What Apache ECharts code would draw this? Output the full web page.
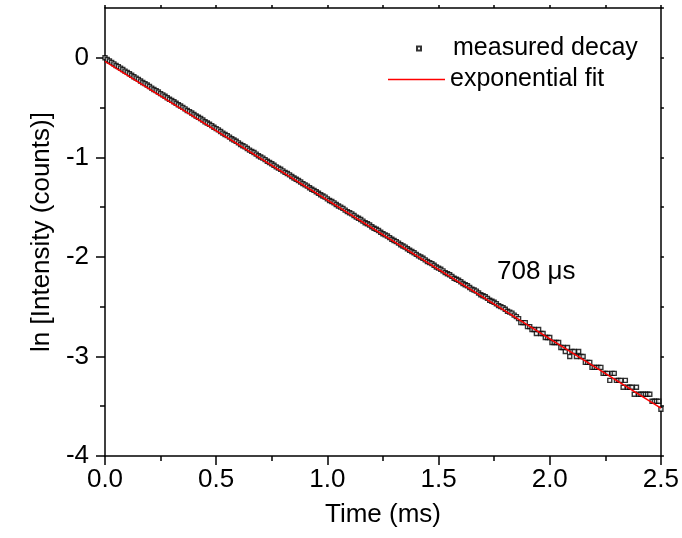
<!DOCTYPE html>
<html>
<head>
<meta charset="utf-8">
<script src="https://cdn.jsdelivr.net/npm/echarts@6/dist/echarts.min.js"></script>
<style>
  html, body { margin: 0; padding: 0; background: #fff; }
</style>
</head>
<body>
<div id="chart" style="width: 682px; height: 538px;"></div>
<script>
// measured decay (time in ms, ln of normalised counts)
var decayTime = [
  0.00, 0.01, 0.02, 0.03, 0.04, 0.05, 0.06, 0.07, 0.08, 0.09,
  0.10, 0.11, 0.12, 0.13, 0.14, 0.15, 0.16, 0.17, 0.18, 0.19,
  0.20, 0.21, 0.22, 0.23, 0.24, 0.25, 0.26, 0.27, 0.28, 0.29,
  0.30, 0.31, 0.32, 0.33, 0.34, 0.35, 0.36, 0.37, 0.38, 0.39,
  0.40, 0.41, 0.42, 0.43, 0.44, 0.45, 0.46, 0.47, 0.48, 0.49,
  0.50, 0.51, 0.52, 0.53, 0.54, 0.55, 0.56, 0.57, 0.58, 0.59,
  0.60, 0.61, 0.62, 0.63, 0.64, 0.65, 0.66, 0.67, 0.68, 0.69,
  0.70, 0.71, 0.72, 0.73, 0.74, 0.75, 0.76, 0.77, 0.78, 0.79,
  0.80, 0.81, 0.82, 0.83, 0.84, 0.85, 0.86, 0.87, 0.88, 0.89,
  0.90, 0.91, 0.92, 0.93, 0.94, 0.95, 0.96, 0.97, 0.98, 0.99,
  1.00, 1.01, 1.02, 1.03, 1.04, 1.05, 1.06, 1.07, 1.08, 1.09,
  1.10, 1.11, 1.12, 1.13, 1.14, 1.15, 1.16, 1.17, 1.18, 1.19,
  1.20, 1.21, 1.22, 1.23, 1.24, 1.25, 1.26, 1.27, 1.28, 1.29,
  1.30, 1.31, 1.32, 1.33, 1.34, 1.35, 1.36, 1.37, 1.38, 1.39,
  1.40, 1.41, 1.42, 1.43, 1.44, 1.45, 1.46, 1.47, 1.48, 1.49,
  1.50, 1.51, 1.52, 1.53, 1.54, 1.55, 1.56, 1.57, 1.58, 1.59,
  1.60, 1.61, 1.62, 1.63, 1.64, 1.65, 1.66, 1.67, 1.68, 1.69,
  1.70, 1.71, 1.72, 1.73, 1.74, 1.75, 1.76, 1.77, 1.78, 1.79,
  1.80, 1.81, 1.82, 1.83, 1.84, 1.85, 1.86, 1.87, 1.88, 1.89,
  1.90, 1.91, 1.92, 1.93, 1.94, 1.95, 1.96, 1.97, 1.98, 1.99,
  2.00, 2.01, 2.02, 2.03, 2.04, 2.05, 2.06, 2.07, 2.08, 2.09,
  2.10, 2.11, 2.12, 2.13, 2.14, 2.15, 2.16, 2.17, 2.18, 2.19,
  2.20, 2.21, 2.22, 2.23, 2.24, 2.25, 2.26, 2.27, 2.28, 2.29,
  2.30, 2.31, 2.32, 2.33, 2.34, 2.35, 2.36, 2.37, 2.38, 2.39,
  2.40, 2.41, 2.42, 2.43, 2.44, 2.45, 2.46, 2.47, 2.48, 2.49,
  2.50
];
var decayLn = [
  0.000, -0.018, -0.033, -0.046, -0.061, -0.077, -0.089, -0.104, -0.118, -0.134,
  -0.147, -0.160, -0.176, -0.191, -0.204, -0.217, -0.233, -0.248, -0.260, -0.273,
  -0.289, -0.305, -0.318, -0.330, -0.344, -0.360, -0.373, -0.386, -0.401, -0.416,
  -0.428, -0.441, -0.457, -0.472, -0.485, -0.498, -0.513, -0.529, -0.541, -0.554,
  -0.570, -0.585, -0.598, -0.610, -0.625, -0.642, -0.655, -0.667, -0.682, -0.698,
  -0.712, -0.724, -0.741, -0.757, -0.770, -0.782, -0.797, -0.813, -0.826, -0.839,
  -0.855, -0.871, -0.883, -0.895, -0.912, -0.928, -0.940, -0.952, -0.968, -0.984,
  -0.996, -1.008, -1.023, -1.040, -1.052, -1.064, -1.080, -1.096, -1.108, -1.120,
  -1.136, -1.151, -1.163, -1.176, -1.192, -1.208, -1.220, -1.232, -1.248, -1.264,
  -1.277, -1.289, -1.305, -1.320, -1.332, -1.345, -1.361, -1.376, -1.388, -1.400,
  -1.417, -1.433, -1.444, -1.457, -1.474, -1.489, -1.500, -1.513, -1.530, -1.545,
  -1.556, -1.568, -1.585, -1.601, -1.612, -1.624, -1.641, -1.657, -1.667, -1.680,
  -1.697, -1.712, -1.722, -1.735, -1.752, -1.768, -1.779, -1.790, -1.806, -1.823,
  -1.836, -1.847, -1.862, -1.878, -1.890, -1.902, -1.918, -1.934, -1.946, -1.958,
  -1.975, -1.990, -2.001, -2.013, -2.030, -2.047, -2.058, -2.068, -2.084, -2.102,
  -2.113, -2.124, -2.140, -2.158, -2.170, -2.180, -2.196, -2.214, -2.224, -2.234,
  -2.250, -2.268, -2.280, -2.290, -2.307, -2.324, -2.333, -2.344, -2.362, -2.380,
  -2.390, -2.400, -2.417, -2.436, -2.445, -2.455, -2.470, -2.490, -2.500, -2.510,
  -2.526, -2.546, -2.555, -2.565, -2.585, -2.600, -2.62, -2.66, -2.66, -2.66,
  -2.70, -2.70, -2.73, -2.73, -2.77, -2.73, -2.77, -2.77, -2.81, -2.81,
  -2.81, -2.86, -2.86, -2.86, -2.86, -2.91, -2.91, -2.95, -2.91, -3.00,
  -2.95, -2.95, -3.00, -2.95, -3.00, -3.00, -3.06, -3.06, -3.06, -3.11,
  -3.11, -3.11, -3.11, -3.11, -3.17, -3.17, -3.17, -3.24, -3.17, -3.17,
  -3.24, -3.24, -3.24, -3.31, -3.24, -3.31, -3.31, -3.31, -3.38, -3.31,
  -3.38, -3.38, -3.38, -3.38, -3.38, -3.38, -3.45, -3.45, -3.45, -3.45,
  -3.53
];

// straight-line fit (exponential fit on a log scale)
var fitTime = [0, 2.5];
var fitLn = [-0.035, -3.52];

var xTicks = [0, 0.5, 1.0, 1.5, 2.0, 2.5];
var yTicks = [-4, -3, -2, -1, 0];
var yMinorTicks = [-3.5, -2.5, -1.5, -0.5];

var FONT = "'Liberation Sans', Arial, sans-serif";

var decayData = decayTime.map(function (t, i) { return [t, decayLn[i]]; });
var fitData = fitTime.map(function (t, i) { return [t, fitLn[i]]; });

var chart = echarts.init(document.getElementById('chart'));

var axisLine = { show: true, onZero: false, lineStyle: { color: '#000', width: 1.5 } };
var tickStyle = { color: '#000', width: 1.5 };

chart.setOption({
  animation: false,
  backgroundColor: '#fff',
  textStyle: { fontFamily: FONT, color: '#000' },
  title: {
    text: '708 μs',
    left: 497,
    top: 259,
    padding: 0,
    textStyle: { fontFamily: FONT, fontSize: 26, fontWeight: 'normal', color: '#000' }
  },
  legend: [
    {
      data: [{ name: 'measured decay', icon: 'rect' }],
      left: 416,
      top: 36,
      padding: 0,
      itemWidth: 4,
      itemHeight: 4,
      selectedMode: false,
      textStyle: { fontFamily: FONT, fontSize: 25, color: '#000', padding: [0, 0, 0, 27] }
    },
    {
      data: [{ name: 'exponential fit', icon: 'rect' }],
      left: 388,
      top: 67,
      padding: 0,
      itemWidth: 57,
      itemHeight: 1.5,
      selectedMode: false,
      textStyle: { fontFamily: FONT, fontSize: 25, color: '#000' }
    }
  ],
  grid: { left: 105, right: 19, top: 8, bottom: 82 },
  xAxis: [
    {
      type: 'value',
      min: 0,
      max: 2.5,
      interval: 0.5,
      position: 'bottom',
      axisLine: axisLine,
      axisTick: { length: 9, lineStyle: tickStyle },
      minorTick: { show: true, splitNumber: 2, length: 5, lineStyle: tickStyle },
      splitLine: { show: false },
      axisLabel: {
        customValues: xTicks,
        formatter: function (v) { return v.toFixed(1); },
        fontSize: 26, color: '#000', fontFamily: FONT, margin: 11
      },
      name: 'Time (ms)',
      nameLocation: 'middle',
      nameGap: 46,
      nameTextStyle: { fontSize: 26, color: '#000', fontFamily: FONT }
    },
    {
      type: 'value',
      min: 0,
      max: 2.5,
      interval: 0.25,
      position: 'top',
      axisLine: axisLine,
      axisTick: { length: 3, lineStyle: tickStyle },
      axisLabel: { show: false },
      splitLine: { show: false }
    }
  ],
  yAxis: [
    {
      type: 'value',
      min: -4,
      max: 0.5,
      position: 'left',
      axisLine: axisLine,
      axisTick: { customValues: yTicks, length: 9, lineStyle: tickStyle },
      axisLabel: {
        customValues: yTicks,
        fontSize: 26, color: '#000', fontFamily: FONT, margin: 16
      },
      splitLine: { show: false },
      name: 'ln [Intensity (counts)]',
      nameLocation: 'middle',
      nameRotate: 90,
      nameGap: 50,
      nameTextStyle: { fontSize: 26, color: '#000', fontFamily: FONT }
    },
    {
      type: 'value',
      min: -4,
      max: 0.5,
      position: 'left',
      axisLine: { show: false, onZero: false },
      axisTick: { customValues: yMinorTicks, length: 5, lineStyle: tickStyle },
      axisLabel: { show: false },
      splitLine: { show: false }
    },
    {
      type: 'value',
      min: -4,
      max: 0.5,
      interval: 0.5,
      position: 'right',
      axisLine: axisLine,
      axisTick: { length: 3, lineStyle: tickStyle },
      axisLabel: { show: false },
      splitLine: { show: false }
    }
  ],
  series: [
    {
      name: 'measured decay',
      type: 'scatter',
      data: decayData,
      symbol: 'rect',
      symbolSize: 4,
      itemStyle: { color: '#fff', borderColor: '#000', borderWidth: 1.4 },
      z: 2
    },
    {
      name: 'exponential fit',
      type: 'line',
      data: fitData,
      showSymbol: false,
      symbol: 'none',
      lineStyle: { color: '#ff0000', width: 1.5 },
      itemStyle: { color: '#ff0000' },
      z: 3
    }
  ]
});
</script>
</body>
</html>
